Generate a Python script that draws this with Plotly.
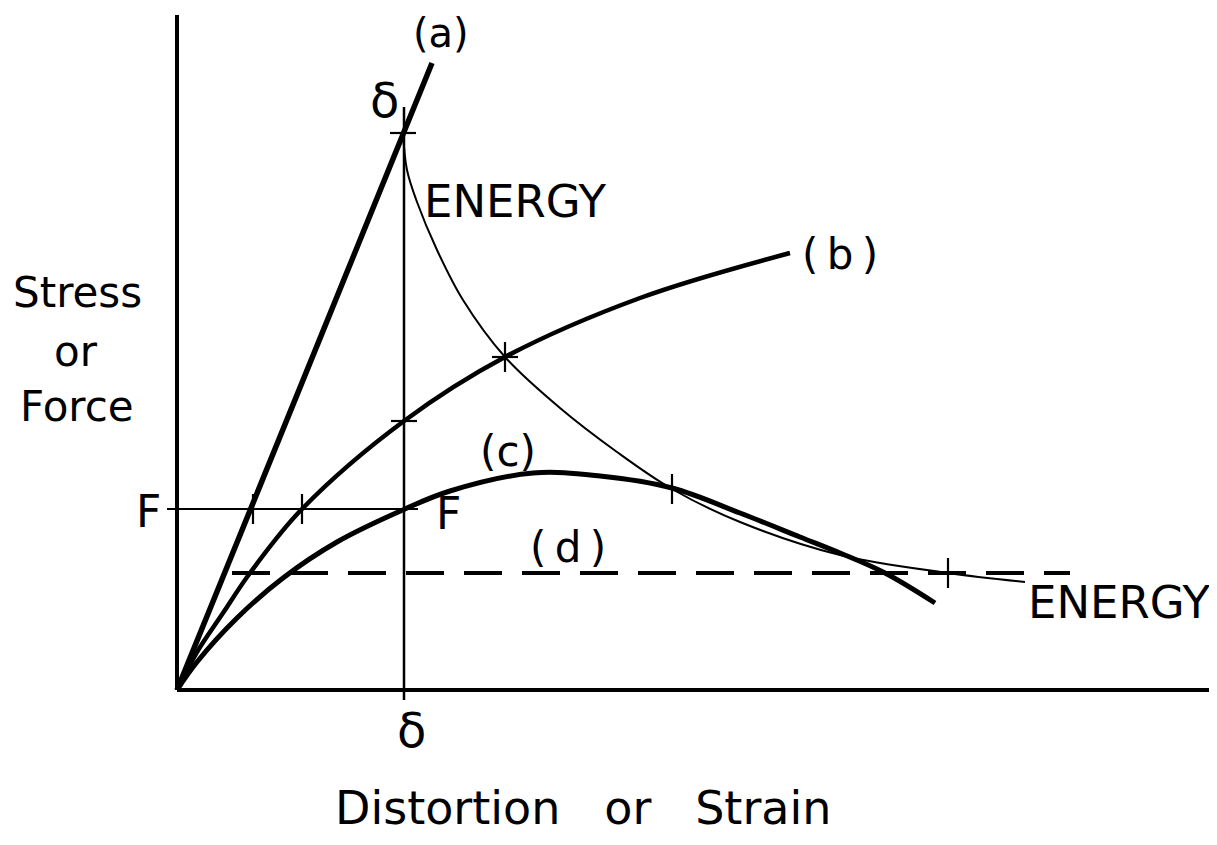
import plotly.graph_objects as go

# ---- data (schematic units of strain / stress) ----
a_x = [0.0, 2.55]
a_y = [0.0, 6.27]

b_x = [0.0, 0.2, 0.46, 0.73, 1.25, 2.27, 3.28, 4.63, 6.13]
b_y = [0.0, 0.38, 0.77, 1.17, 1.81, 2.69, 3.33, 3.92, 4.37]

c_x = [0.0, 0.2, 0.6, 1.06, 1.6, 2.28, 2.73, 3.56, 4.23, 4.95, 5.63, 6.23, 6.63, 7.08, 7.58]
c_y = [0.0, 0.28, 0.72, 1.12, 1.48, 1.81, 1.99, 2.17, 2.14, 2.02, 1.77, 1.53, 1.37, 1.17, 0.87]

d_x = [0.55, 8.93]
d_y = [1.17, 1.17]

energy_x = [2.26, 2.30, 2.40, 2.60, 2.86, 3.28, 3.83, 4.40, 4.95, 5.63, 6.63, 7.71, 8.48]
energy_y = [5.57, 5.20, 4.88, 4.40, 3.90, 3.33, 2.82, 2.38, 2.01, 1.68, 1.35, 1.17, 1.08]

F_level = 1.81
F_x = [-0.10, 2.41]
delta_x = 2.27
delta_y = [-0.10, 5.83]

# marked intersection points
hmarks_x = [2.26, 2.27, 3.28]
hmarks_y = [5.57, 2.69, 3.33]
vmarks_x = [0.76, 1.25, 3.28, 4.95, 7.71]
vmarks_y = [1.81, 1.81, 3.33, 2.01, 1.17]

axis_x_max = 10.40
axis_y_max = 6.75

FONT = "DejaVu Sans"
BLACK = "#000000"

fig = go.Figure()

def line(x, y, w, shape="linear", dash=None):
    fig.add_trace(go.Scatter(
        x=x, y=y, mode="lines", showlegend=False, hoverinfo="skip",
        line=dict(color=BLACK, width=w, shape=shape, dash=dash,
                  smoothing=1.0 if shape == "spline" else None),
    ))

# axes
line([0, 0], [0, axis_y_max], 4)
line([0, axis_x_max], [0, 0], 4)

# reference lines
line(F_x, [F_level, F_level], 2)
line([delta_x, delta_x], delta_y, 2.5)
line(d_x, d_y, 4, dash="38px,20px")

# curves
line(a_x, a_y, 5.5)
line(b_x, b_y, 4.5, shape="spline")
line(c_x, c_y, 5, shape="spline")
line(energy_x, energy_y, 2, shape="spline")

# tick marks
tx, ty = [], []
for x, y in zip(hmarks_x, hmarks_y):
    tx += [x - 0.13, x + 0.13, None]
    ty += [y, y, None]
for x, y in zip(vmarks_x, vmarks_y):
    tx += [x, x, None]
    ty += [y - 0.15, y + 0.15, None]
line(tx, ty, 2.2)

NB = "\u00a0"
labels = [
    ("(a)", 2.64, 6.57, 40),
    ("δ", 2.07, 5.90, 48),
    ("ENERGY", 3.38, 4.89, 45),
    ("(\u2009b\u2009)", 6.63, 4.36, 42),
    ("(c)", 3.31, 2.39, 42),
    ("(\u2009d\u2009)", 3.91, 1.43, 42),
    ("F", -0.29, 1.79, 44),
    ("F", 2.71, 1.77, 44),
    ("ENERGY", 9.42, 0.88, 45),
    ("δ", 2.34, -0.40, 48),
    ("Stress", -1.00, 3.98, 42),
    ("or", -1.01, 3.39, 42),
    ("Force", -1.00, 2.84, 42),
    ("Distortion" + NB * 2 + " or" + NB * 2 + " Strain", 4.06, -1.18, 46),
]
for text, x, y, s in labels:
    fig.add_annotation(x=x, y=y, xref="x", yref="y", text=text, showarrow=False,
                       xanchor="center", yanchor="middle",
                       font=dict(family=FONT, size=s, color=BLACK))

# the page body adds an 8px offset; ranges compensate so marks land in place
fig.update_layout(
    width=1217, height=845,
    margin=dict(l=0, r=0, t=0, b=0),
    paper_bgcolor="white", plot_bgcolor="white",
    xaxis=dict(range=[-1.69, 10.48], visible=False, fixedrange=True),
    yaxis=dict(range=[-1.63, 6.82], visible=False, fixedrange=True),
)

fig.write_html("out.html")
